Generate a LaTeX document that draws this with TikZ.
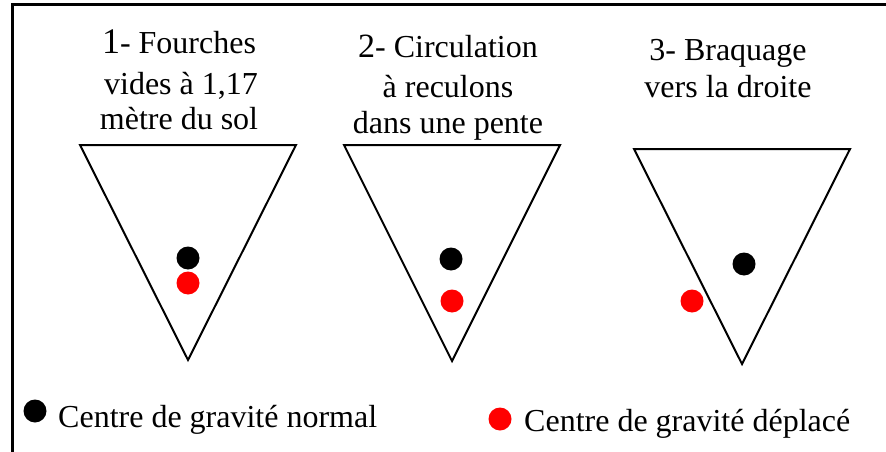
\documentclass[tikz,border=0pt]{standalone}
\usepackage{fontspec}
\setmainfont{Liberation Serif}
\begin{document}
\begin{tikzpicture}[x=1pt,y=-1pt,
  txt/.style={anchor=base,inner sep=0pt,font=\fontsize{32}{37}\selectfont},
  ltxt/.style={anchor=base west,inner sep=0pt,font=\fontsize{32}{37}\selectfont},
  tri/.style={draw=black,line width=2pt,line join=miter},
  frame/.style={draw=black,line width=3pt},
  bdot/.style={circle,fill=black,minimum size=23pt,inner sep=0pt},
  rdot/.style={circle,fill=red,minimum size=23pt,inner sep=0pt}]
\useasboundingbox (0,0) rectangle (886,452);
% frame
\draw[frame] (12.5,452) -- (12.5,4.5) -- (886,4.5);
% titles
\node[txt] (t1a) at (179,54) {{\fontsize{36}{37}\selectfont 1}- Fourches};
\node[txt] (t1b) at (181,94) {vides à 1,17};
\node[txt] (t1c) at (179,129) {mètre du sol};
\node[txt] (t2a) at (448,58) {{\fontsize{34}{37}\selectfont 2}- Circulation};
\node[txt] (t2b) at (448,97) {à reculons};
\node[txt] (t2c) at (448,133) {dans une pente};
\node[txt] (t3a) at (728,60) {3- Braquage};
\node[txt] (t3b) at (728,97) {vers la droite};
% triangles
\coordinate (a1) at (80,145); \coordinate (b1) at (296,145); \coordinate (c1) at (188,360);
\coordinate (a2) at (344,145); \coordinate (b2) at (560,145); \coordinate (c2) at (452,361);
\coordinate (a3) at (634,149); \coordinate (b3) at (850,149); \coordinate (c3) at (742,364);
\draw[tri] (a1) -- (b1) -- (c1) -- cycle;
\draw[tri] (a2) -- (b2) -- (c2) -- cycle;
\draw[tri] (a3) -- (b3) -- (c3) -- cycle;
% dots
\node[bdot] (n1) at (188,258) {};
\node[rdot] (r1) at (188,283) {};
\node[bdot] (n2) at (451,259) {};
\node[rdot] (r2) at (452,301) {};
\node[bdot] (n3) at (744,264) {};
\node[rdot] (r3) at (692,301) {};
% legend
\node[bdot] (lb) at (35,411) {};
\node[ltxt] (lbt) at (58,427) {Centre de gravité normal};
\node[rdot] (lr) at (500,419) {};
\node[ltxt] (lrt) at (524,431) {Centre de gravité déplacé};
\end{tikzpicture}
\end{document}
